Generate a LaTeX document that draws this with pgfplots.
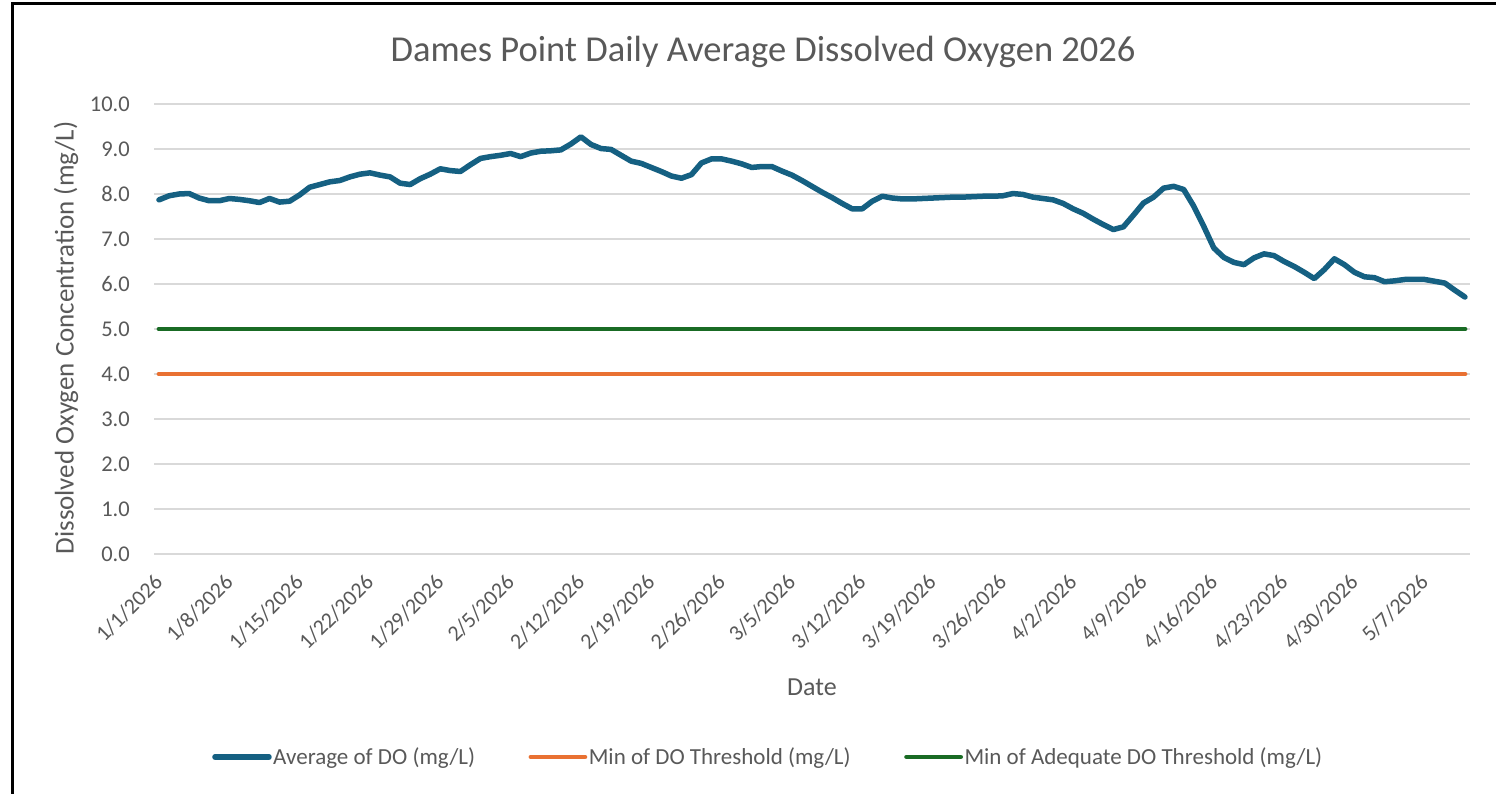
\documentclass[border=0pt]{standalone}
\usepackage{fontspec}
\setmainfont{Carlito}
\usepackage{pgfplots}
\usepackage{pgfplotstable}
\pgfplotsset{compat=1.18}
\definecolor{doblue}{HTML}{156082}
\definecolor{doorange}{HTML}{E97132}
\definecolor{dogreen}{HTML}{196B24}
\definecolor{gridgray}{HTML}{D9D9D9}
\definecolor{txtgray}{HTML}{595959}

\pgfplotstableread{
day val
0 7.87
1 7.96
2 8.00
3 8.01
4 7.91
5 7.85
6 7.85
7 7.90
8 7.88
9 7.85
10 7.81
11 7.90
12 7.82
13 7.84
14 7.98
15 8.15
16 8.21
17 8.27
18 8.30
19 8.38
20 8.44
21 8.47
22 8.42
23 8.38
24 8.24
25 8.21
26 8.34
27 8.44
28 8.56
29 8.52
30 8.50
31 8.65
32 8.79
33 8.83
34 8.86
35 8.90
36 8.83
37 8.91
38 8.95
39 8.96
40 8.98
41 9.11
42 9.27
43 9.10
44 9.01
45 8.99
46 8.86
47 8.73
48 8.68
49 8.59
50 8.50
51 8.40
52 8.35
53 8.43
54 8.69
55 8.78
56 8.78
57 8.73
58 8.67
59 8.59
60 8.61
61 8.61
62 8.51
63 8.42
64 8.30
65 8.17
66 8.04
67 7.92
68 7.79
69 7.67
70 7.67
71 7.84
72 7.95
73 7.91
74 7.89
75 7.89
76 7.90
77 7.91
78 7.92
79 7.93
80 7.93
81 7.94
82 7.95
83 7.95
84 7.96
85 8.01
86 7.99
87 7.93
88 7.90
89 7.87
90 7.79
91 7.67
92 7.57
93 7.44
94 7.32
95 7.21
96 7.27
97 7.53
98 7.80
99 7.93
100 8.13
101 8.17
102 8.10
103 7.73
104 7.28
105 6.80
106 6.59
107 6.48
108 6.43
109 6.58
110 6.67
111 6.63
112 6.50
113 6.39
114 6.26
115 6.12
116 6.32
117 6.56
118 6.43
119 6.26
120 6.16
121 6.14
122 6.05
123 6.07
124 6.10
125 6.10
126 6.10
127 6.06
128 6.02
129 5.86
130 5.71
}\dodata

\begin{document}
\begin{tikzpicture}
\useasboundingbox (0pt,0pt) rectangle (1496pt,794pt);
\fill[white] (0pt,0pt) rectangle (1496pt,794pt);
\draw[black, line width=3pt] (12pt,0pt) -- (12pt,790pt) -- (1496pt,790pt);
\node[text=txtgray, font=\fontsize{36.5}{42}\selectfont, anchor=base] at (763pt,732pt) {Dames Point Daily Average Dissolved Oxygen 2026};
\begin{axis}[
  at={(154pt,240pt)}, anchor=south west,
  scale only axis, width=1316pt, height=450pt,
  xmin=-0.5, xmax=130.5, ymin=0, ymax=10,
  axis line style={draw=none},
  major tick length=0pt,
  ymajorgrids, grid style={gridgray, line width=1.8pt},
  ytick={0,1,...,10},
  yticklabel style={/pgf/number format/fixed, /pgf/number format/fixed zerofill, /pgf/number format/precision=1, /pgf/number format/assume math mode=true},
  yticklabel style={text=txtgray, font=\fontsize{22.5}{26}\selectfont, anchor=east, inner sep=0pt, xshift=-24pt},
  xtick={0,7,...,126},
  xticklabels={1/1/2026,1/8/2026,1/15/2026,1/22/2026,1/29/2026,2/5/2026,2/12/2026,2/19/2026,2/26/2026,3/5/2026,3/12/2026,3/19/2026,3/26/2026,4/2/2026,4/9/2026,4/16/2026,4/23/2026,4/30/2026,5/7/2026},
  xticklabel style={text=txtgray, font=\fontsize{22}{26}\selectfont, xshift=-6pt, yshift=-18.5pt, rotate=45, anchor=north east, inner sep=0pt},
  xlabel={Date},
  xlabel style={text=txtgray, font=\fontsize{26}{30}\selectfont, at={(axis description cs:0.5,-0.2956)}, anchor=center},
  ylabel={Dissolved Oxygen Concentration (mg/L)},
  ylabel style={text=txtgray, font=\fontsize{27}{31}\selectfont, at={(axis description cs:-0.0669,0.48)}, anchor=center, rotate=0},
  legend columns=3,
  legend style={at={(axis description cs:0.4666,-0.451)}, anchor=center, draw=none, fill=none,
    font=\fontsize{23}{27}\selectfont, text=txtgray,
    /tikz/every even column/.append style={column sep=52pt},
    nodes={inner sep=1.5pt}},
  legend image code/.code={\draw[#1, line cap=round] (0pt,0pt) -- (54pt,0pt);},
]
\addplot[doblue, line width=5.5pt, line join=round, line cap=round] table[x=day, y=val] {\dodata};
\addlegendentry{Average of DO (mg/L)}
\addplot[doorange, line width=4.8pt, line cap=round] coordinates {(0,4) (130,4)};
\addlegendentry{Min of DO Threshold (mg/L)}
\addplot[dogreen, line width=4.8pt, line cap=round] coordinates {(0,5) (130,5)};
\addlegendentry{Min of Adequate DO Threshold (mg/L)}
\end{axis}
\end{tikzpicture}
\end{document}
